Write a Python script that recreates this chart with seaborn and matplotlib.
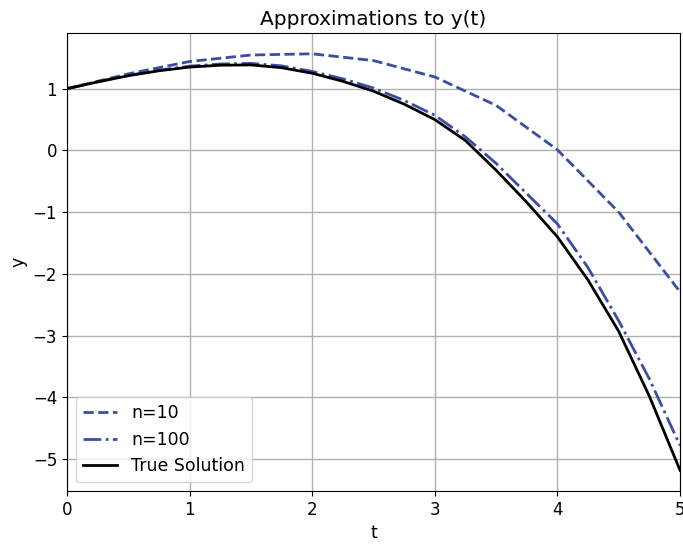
import numpy as np
import pandas as pd
import matplotlib
matplotlib.use("Agg")
import matplotlib.pyplot as plt
import seaborn as sns

# Euler approximation, n=10 (h=0.5)
t_n10 = [0.0, 0.5, 1.0, 1.5, 2.0, 2.5, 3.0, 3.5, 4.0, 4.5, 5.0]
y_n10 = [1.0, 1.24, 1.44, 1.545, 1.565, 1.455, 1.19, 0.73, 0.01, -1.0, -2.29]

# Euler approximation, n=100 (read at t step 0.25)
t_n100 = [0.0, 0.25, 0.5, 0.75, 1.0, 1.25, 1.5, 1.75, 2.0, 2.25, 2.5,
          2.75, 3.0, 3.25, 3.5, 3.75, 4.0, 4.25, 4.5, 4.75, 5.0]
y_n100 = [1.0, 1.11, 1.215, 1.30, 1.365, 1.40, 1.41, 1.37, 1.28, 1.16, 1.01,
          0.81, 0.57, 0.22, -0.21, -0.70, -1.19, -1.90, -2.76, -3.70, -4.78]

# True solution
t_true = [0.0, 0.25, 0.5, 0.75, 1.0, 1.25, 1.5, 1.75, 2.0, 2.25, 2.5,
          2.75, 3.0, 3.25, 3.5, 3.75, 4.0, 4.25, 4.5, 4.75, 5.0]
y_true = [1.0, 1.11, 1.21, 1.29, 1.35, 1.38, 1.385, 1.34, 1.25, 1.12, 0.96,
          0.75, 0.50, 0.16, -0.32, -0.84, -1.40, -2.10, -2.93, -3.98, -5.18]

blue = "#3a4ea3"

fig = plt.figure(figsize=(6.83, 5.46), dpi=100)
ax = fig.add_axes([0.098, 0.1007, 0.8976, 0.8389])

sns.lineplot(x=t_n10, y=y_n10, ax=ax, color=blue, linestyle="--", lw=2, label="n=10")
sns.lineplot(x=t_n100, y=y_n100, ax=ax, color=blue, linestyle="-.", lw=2, label="n=100")
sns.lineplot(x=t_true, y=y_true, ax=ax, color="black", linestyle="-", lw=2, label="True Solution")

ax.set_xlim(0, 5)
ax.set_title("Approximations to y(t)", fontsize=14.5)
ax.set_xlabel("t", fontsize=12.5)
ax.set_ylabel("y", fontsize=12.5)
ax.tick_params(labelsize=12)
ax.grid(True, color="#b0b0b0", linewidth=1.0)
ax.legend(loc="lower left", fontsize=12.5)

fig.savefig("out.png", dpi=100)
